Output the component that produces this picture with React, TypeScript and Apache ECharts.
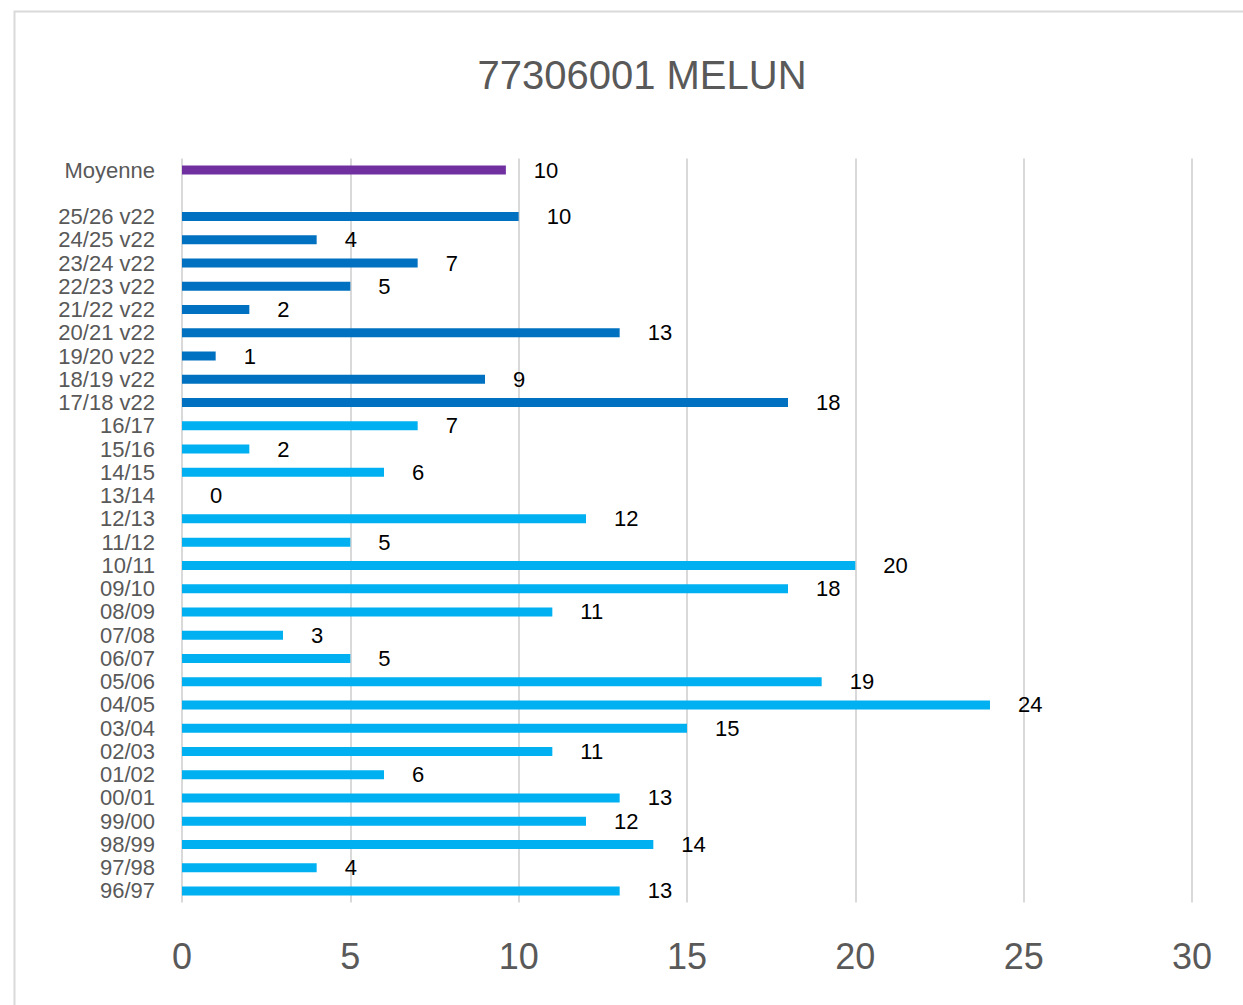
import React, { useEffect, useRef } from "react";
import * as echarts from "echarts";

const titleText = "77306001 MELUN";

// categories bottom-to-top
const oldSeasons = [
  "96/97", "97/98", "98/99", "99/00", "00/01", "01/02", "02/03", "03/04", "04/05", "05/06",
  "06/07", "07/08", "08/09", "09/10", "10/11", "11/12", "12/13", "13/14", "14/15", "15/16", "16/17",
];
const oldValues = [13, 4, 14, 12, 13, 6, 11, 15, 24, 19, 5, 3, 11, 18, 20, 5, 12, 0, 6, 2, 7];

const v22Seasons = [
  "17/18 v22", "18/19 v22", "19/20 v22", "20/21 v22", "21/22 v22",
  "22/23 v22", "23/24 v22", "24/25 v22", "25/26 v22",
];
const v22Values = [18, 9, 1, 13, 2, 5, 7, 4, 10];

const gapCategory = " ";
const meanCategory = "Moyenne";
const meanValue = 9.62;

const xTicks = [0, 5, 10, 15, 20, 25, 30];

const colorOld = "#00B0F0";
const colorV22 = "#0070C0";
const colorMean = "#7030A0";

export default function App() {
  const ref = useRef<HTMLDivElement>(null);

  useEffect(() => {
    if (!ref.current) return;
    const chart = echarts.init(ref.current, null, { renderer: "svg" });

    const categories = [...oldSeasons, ...v22Seasons, gapCategory, meanCategory];
    const data: any[] = [
      ...oldValues.map((v) => ({ value: v, itemStyle: { color: colorOld } })),
      ...v22Values.map((v) => ({ value: v, itemStyle: { color: colorV22 } })),
      { value: "-" },
      { value: meanValue, itemStyle: { color: colorMean } },
    ];

    chart.setOption({
      animation: false,
      backgroundColor: "#ffffff",
      textStyle: { fontFamily: "Liberation Sans" },
      title: {
        text: titleText,
        left: 637,
        textAlign: "center",
        top: 50,
        textStyle: {
          fontFamily: "Liberation Sans",
          fontSize: 40,
          fontWeight: "normal",
          color: "#595959",
        },
      },
      graphic: [
        {
          type: "rect",
          left: 12,
          top: 9,
          shape: { x: 0, y: 0, width: 1260, height: 1020 },
          style: { fill: "none", stroke: "#d9d9d9", lineWidth: 2 },
          silent: true,
          z: -1,
        },
      ],
      grid: {
        left: 182,
        right: 51,
        top: 158.4,
        bottom: 102.4,
        containLabel: false,
      },
      xAxis: {
        type: "value",
        min: xTicks[0],
        max: xTicks[xTicks.length - 1],
        interval: 5,
        axisLine: { show: false },
        axisTick: { show: false },
        splitLine: { show: true, lineStyle: { color: "#d9d9d9", width: 2 } },
        axisLabel: {
          fontFamily: "Liberation Sans",
          fontSize: 36,
          color: "#595959",
          margin: 36,
        },
      },
      yAxis: {
        type: "category",
        data: categories,
        axisLine: { show: false },
        axisTick: { show: false },
        splitLine: { show: false },
        axisLabel: {
          interval: 0,
          fontFamily: "Liberation Sans",
          fontSize: 22,
          lineHeight: 21,
          color: "#595959",
          margin: 27,
        },
      },
      series: [
        {
          type: "bar",
          data,
          barWidth: 9,
          label: {
            show: true,
            position: "right",
            distance: 28,
            fontFamily: "Liberation Sans",
            fontSize: 22,
            lineHeight: 21,
            color: "#000000",
            formatter: (p: any) => String(Math.round(p.value)),
          },
        },
      ],
    });

    return () => chart.dispose();
  }, []);

  return (
    <div
      ref={ref}
      style={{ position: "fixed", left: 0, top: 0, width: 1243, height: 1005 }}
    />
  );
}
